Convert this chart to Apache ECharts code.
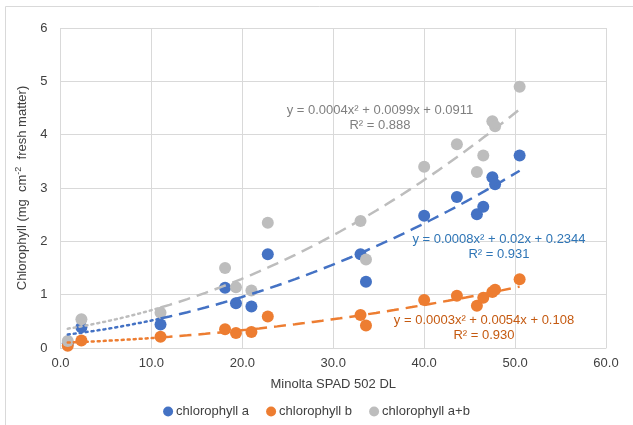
<!DOCTYPE html>
<html lang="en">
<head>
  <meta charset="UTF-8">
  <title>Chlorophyll vs SPAD</title>
  <script src="https://cdn.jsdelivr.net/npm/echarts@6/dist/echarts.min.js"></script>
  <style>
    html, body { margin: 0; padding: 0; background: #fff; }
    #main { width: 633px; height: 425px; }
  </style>
</head>
<body>

<div id="main"></div>

<script>
  // readings
  var spad = [0.8, 2.3, 11.0, 18.1, 19.3, 21.0, 22.8, 33.0, 33.6, 40.0, 43.6, 45.8, 46.5, 47.5, 47.8, 50.5];
  var chlA = [0.09, 0.39, 0.44, 1.13, 0.84, 0.78, 1.76, 1.76, 1.24, 2.48, 2.83, 2.51, 2.65, 3.20, 3.07, 3.61];
  var chlB = [0.04, 0.14, 0.21, 0.35, 0.28, 0.30, 0.59, 0.62, 0.42, 0.90, 0.98, 0.79, 0.94, 1.05, 1.09, 1.29];
  var chlAB = [0.13, 0.54, 0.66, 1.50, 1.14, 1.08, 2.35, 2.38, 1.66, 3.40, 3.82, 3.30, 3.61, 4.25, 4.16, 4.90];
  var seriesNames = ['chlorophyll a', 'chlorophyll b', 'chlorophyll a+b'];
  var xTicks = [0, 10, 20, 30, 40, 50, 60];
  var yTicks = [0, 1, 2, 3, 4, 5, 6];
  var eqA = ['y = 0.0008x\u00b2 + 0.02x + 0.2344', 'R\u00b2 = 0.931'];
  var eqB = ['y = 0.0003x\u00b2 + 0.0054x + 0.108', 'R\u00b2 = 0.930'];
  var eqAB = ['y = 0.0004x\u00b2 + 0.0099x + 0.0911', 'R\u00b2 = 0.888'];

  var colors = ['#4472C4', '#ED7D31', '#BDBDBD'];
  var eqColors = ['#2E75B6', '#C55A11', '#7F7F7F'];
  var font = '"Liberation Sans", Arial, sans-serif';
  var splitAt = 11; // dotted part of the trend ends here

  // least squares quadratic fit
  function polyfit2(xs, ys) {
    var s = [0, 0, 0, 0, 0], t = [0, 0, 0];
    for (var i = 0; i < xs.length; i++) {
      var p = 1;
      for (var k = 0; k < 5; k++) { s[k] += p; if (k < 3) t[k] += p * ys[i]; p *= xs[i]; }
    }
    var m = [[s[0], s[1], s[2], t[0]], [s[1], s[2], s[3], t[1]], [s[2], s[3], s[4], t[2]]];
    for (var c = 0; c < 3; c++) {
      for (var r = c + 1; r < 3; r++) {
        var f = m[r][c] / m[c][c];
        for (var q = c; q < 4; q++) m[r][q] -= f * m[c][q];
      }
    }
    var b = [0, 0, 0];
    for (var r2 = 2; r2 >= 0; r2--) {
      var v = m[r2][3];
      for (var q2 = r2 + 1; q2 < 3; q2++) v -= m[r2][q2] * b[q2];
      b[r2] = v / m[r2][r2];
    }
    return b;
  }

  function trendPoints(ys, from, to) {
    var b = polyfit2(spad, ys);
    var pts = [];
    var n = 40;
    for (var i = 0; i <= n; i++) {
      var x = from + (to - from) * i / n;
      pts.push([x, b[0] + b[1] * x + b[2] * x * x]);
    }
    return pts;
  }

  var all = [chlA, chlB, chlAB];
  var series = [];
  var xMin = spad[0], xMax = spad[spad.length - 1];
  all.forEach(function (ys, i) {
    series.push({
      name: seriesNames[i], type: 'scatter', symbolSize: 12, z: 2,
      itemStyle: { color: colors[i], opacity: 1 },
      data: spad.map(function (x, j) { return [x, ys[j]]; })
    });
  });
  all.forEach(function (ys, i) {
    series.push({
      type: 'line', showSymbol: false, silent: true, z: 3,
      lineStyle: { color: colors[i], width: 2.5, type: [2, 4], cap: 'round' },
      data: trendPoints(ys, xMin, splitAt)
    });
    series.push({
      type: 'line', showSymbol: false, silent: true, z: 3,
      lineStyle: { color: colors[i], width: 2.5, type: [12, 7] },
      data: trendPoints(ys, splitAt, xMax)
    });
  });

  function eqText(lines, cx, cy, color) {
    return {
      type: 'text', x: cx, y: cy, z: 100,
      style: { text: lines.join('\n'), fill: color, font: '13px ' + font, align: 'center', verticalAlign: 'middle', lineHeight: 15 }
    };
  }

  var chart = echarts.init(document.getElementById('main'));
  chart.setOption({
    animation: false,
    textStyle: { fontFamily: font },
    grid: { left: 60.5, right: 27, top: 28, bottom: 77 },
    legend: {
      data: seriesNames, bottom: 2, left: 'center', icon: 'circle',
      itemWidth: 10, itemHeight: 10, itemGap: 17,
      textStyle: { fontSize: 13, color: '#404040', padding: [0, 0, 0, -2] }
    },
    xAxis: {
      type: 'value', min: xTicks[0], max: xTicks[xTicks.length - 1], interval: 10,
      name: 'Minolta SPAD 502 DL', nameLocation: 'middle', nameGap: 30,
      nameTextStyle: { fontSize: 13, color: '#404040' },
      axisLine: { show: true, lineStyle: { color: '#D9D9D9' } },
      axisTick: { show: false },
      axisLabel: { fontSize: 13, color: '#404040', margin: 9, formatter: function (v) { return v.toFixed(1); } },
      splitLine: { show: true, lineStyle: { color: '#D9D9D9' } }
    },
    yAxis: {
      type: 'value', min: yTicks[0], max: yTicks[yTicks.length - 1], interval: 1,
      name: 'Chlorophyll (mg  cm{sup|-2}  fresh matter)', nameLocation: 'middle', nameGap: 30,
      nameTextStyle: { fontSize: 13, color: '#404040', rich: { sup: { fontSize: 9, color: '#404040', padding: [0, 0, 7, 0] } } },
      axisLine: { show: false },
      axisTick: { show: false },
      axisLabel: { fontSize: 13, color: '#404040', margin: 13 },
      splitLine: { show: true, lineStyle: { color: '#D9D9D9' } }
    },
    graphic: [
      { type: 'rect', shape: { x: 5.5, y: 6.5, width: 660, height: 460 }, style: { fill: 'none', stroke: '#D9D9D9', lineWidth: 1 }, silent: true },
      eqText(eqAB, 380, 118, eqColors[2]),
      eqText(eqA, 499, 247, eqColors[0]),
      eqText(eqB, 484, 328, eqColors[1])
    ],
    series: series
  });
</script>
</body>
</html>
